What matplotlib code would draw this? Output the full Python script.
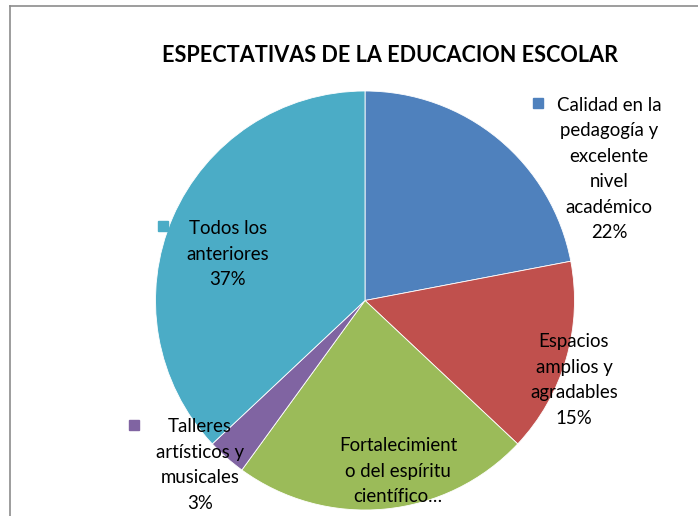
import matplotlib
matplotlib.use("Agg")
import matplotlib.pyplot as plt
from matplotlib.lines import Line2D

labels = ["Calidad en la\npedagogía y\nexcelente\nnivel\nacadémico",
          "Espacios\namplios y\nagradables",
          "Fortalecimient\no del espíritu\ncientífico…",
          "Talleres\nartísticos y\nmusicales",
          "Todos los\nanteriores"]
values = [22, 15, 23, 3, 37]
show_pct = [True, True, False, True, True]
colors = ["#4F81BD", "#C0504D", "#9BBB59", "#8064A2", "#4BACC6"]
title = "ESPECTATIVAS DE LA EDUCACION ESCOLAR"

W, H = 698, 516
fig = plt.figure(figsize=(W / 100, H / 100), dpi=100)
fig.patch.set_facecolor("white")

cx, cy, r = 365, 300.5, 209.5
ax = fig.add_axes([(cx - r) / W, (H - cy - r) / H, 2 * r / W, 2 * r / H])
ax.pie(values, colors=colors, startangle=90, counterclock=False,
       wedgeprops=dict(edgecolor="white", linewidth=0.6))
ax.set_xlim(-1, 1)
ax.set_ylim(-1, 1)
ax.set_aspect("equal")
ax.axis("off")

font = "Lato"
# label centers (pixels) and marker positions (pixels)
text_pos = [(609, 169), (574, 380), (398, 471), (200, 465), (228, 254)]
marker_pos = [(538, 103), None, None, (134, 425), (163, 226)]

for lab, v, sp, (tx, ty) in zip(labels, values, show_pct, text_pos):
    s = lab + (f"\n{v}%" if sp else "")
    fig.text(tx / W, 1 - ty / H, s, ha="center", va="center", fontsize=13.4,
             family=font, color="black", linespacing=1.6)

for mp, c in zip(marker_pos, colors):
    if mp is not None:
        fig.add_artist(Line2D([mp[0] / W], [1 - mp[1] / H], marker="s", markersize=7,
                              color=c, linestyle="none"))

fig.text(390 / W, 1 - 55 / H, title, ha="center", va="center", fontsize=15.6,
         fontweight="bold", family=font, color="black")

# frame border
fig.add_artist(Line2D([10 / W, 10 / W], [0, 1 - 6 / H], color="#8c8c8c", linewidth=1.2))
fig.add_artist(Line2D([10 / W, 1], [1 - 6 / H, 1 - 6 / H], color="#8c8c8c", linewidth=1.2))

fig.savefig("out.png", dpi=100, facecolor="white")
